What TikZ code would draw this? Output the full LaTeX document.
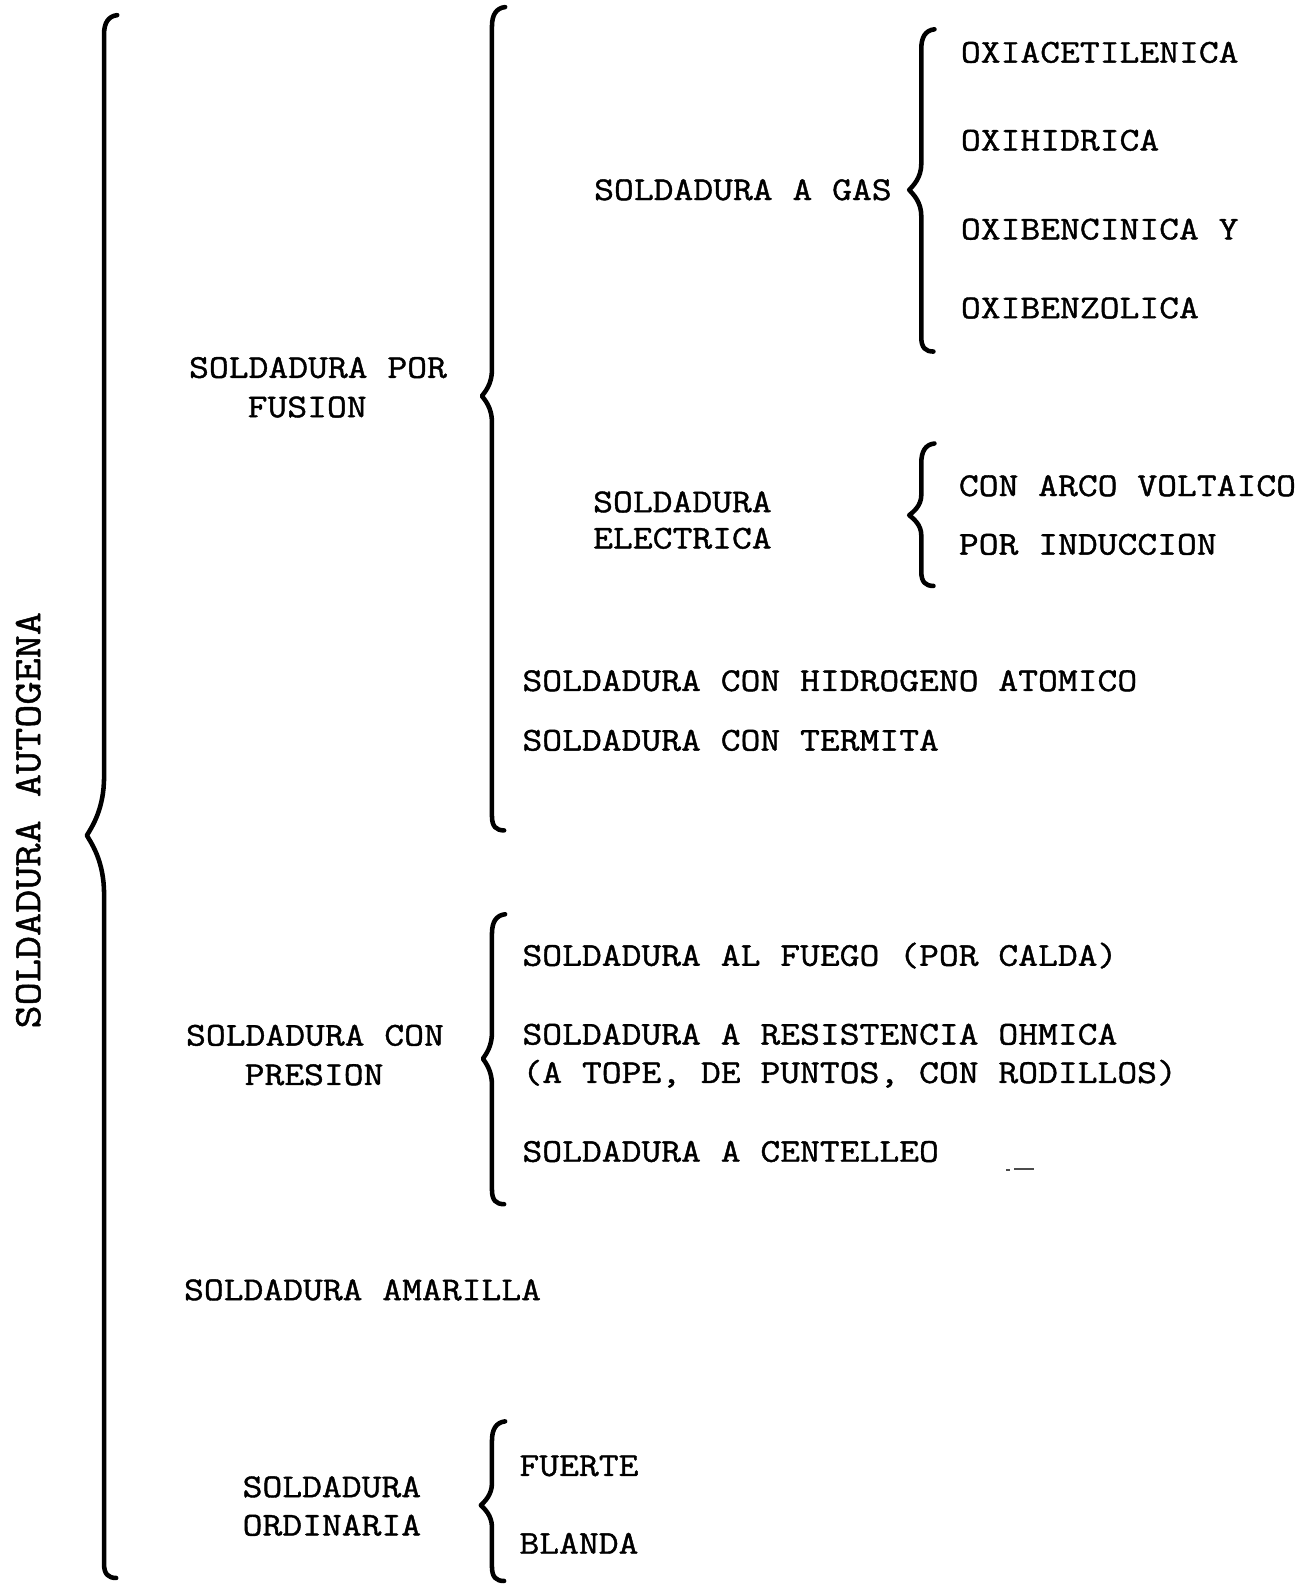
\documentclass[tikz,border=0pt]{standalone}
\usepackage{fontspec}
\newfontfamily\twfont[FakeStretch=1.155, FakeBold=1.2]{Latin Modern Mono}
\tikzset{
  txt/.style={font=\twfont\fontsize{33}{40}\selectfont, anchor=base west, inner sep=0pt},
  vtxt/.style={font=\twfont\fontsize{38.5}{40}\selectfont, inner sep=0pt, rotate=90},
  bracestyle/.style={line width=4.5pt, line cap=round, line join=round},
}
% #1 x of stem, #2 top y, #3 bottom y, #4 tip x, #5 tip y, #6 half span of the tip
\newcommand{\mybrace}[6]{%
  \draw[bracestyle] (#1+13,#2-3) .. controls (#1+4,#2-2) and (#1,#2+5) .. (#1,#2+16)
    -- (#1,#5-#6) .. controls (#1,#5-0.45*#6) and (#4+0.3*#1-0.3*#4,#5-0.15*#6) .. (#4,#5)
    .. controls (#4+0.3*#1-0.3*#4,#5+0.15*#6) and (#1,#5+0.45*#6) .. (#1,#5+#6)
    -- (#1,#3-14) .. controls (#1,#3-4) and (#1+4,#3) .. (#1+12,#3);}
\begin{document}
\begin{tikzpicture}[x=1pt,y=-1pt]
\useasboundingbox[fill=white] (0,0) rectangle (1299,1568);

% rotated title
\node[vtxt] (root) at (28,812) {SOLDADURA  AUTOGENA};
\mybrace{103}{18}{1562}{86}{827}{58}

% fusion
\node[txt] (fus1) at (187,374) {SOLDADURA POR};
\node[txt] (fus2) at (245,413) {FUSION};
\mybrace{487}{10}{822}{477}{392}{26}

\node[txt] (gas) at (588,198) {SOLDADURA A GAS};
\mybrace{912}{32}{348}{900}{188}{26}
\node[txt] (oxa) at (951,62) {OXIACETILENICA};
\node[txt] (oxh) at (951,149) {OXIHIDRICA};
\node[txt] (oxb) at (951,237) {OXIBENCINICA Y};
\node[txt] (oxz) at (951,315) {OXIBENZOLICA};

\node[txt] (el1) at (587,507) {SOLDADURA};
\node[txt] (el2) at (587,543) {ELECTRICA};
\mybrace{912}{442}{580}{900}{510}{20}
\node[txt] (arco) at (949,491) {CON ARCO VOLTAICO};
\node[txt] (ind) at (949,549) {POR INDUCCION};

\node[txt] (hid) at (517,684) {SOLDADURA CON HIDROGENO ATOMICO};
\node[txt] (ter) at (517,743) {SOLDADURA CON TERMITA};

% presion
\node[txt] (pr1) at (184,1035) {SOLDADURA CON};
\node[txt] (pr2) at (242,1074) {PRESION};
\mybrace{487}{908}{1192}{478}{1048}{26}
\node[txt] (fue) at (517,956) {SOLDADURA AL FUEGO (POR CALDA)};
\node[txt] (res) at (517,1034) {SOLDADURA A RESISTENCIA OHMICA};
\node[txt] (top) at (517,1072) {(A TOPE, DE PUNTOS, CON RODILLOS)};
\node[txt] (cen) at (517,1150) {SOLDADURA A CENTELLEO};
\draw[line width=1.5pt, black!70] (996,1158) -- (1000,1158) (1004,1157) -- (1024,1157);

% amarilla
\node[txt] (ama) at (182,1287) {SOLDADURA AMARILLA};

% ordinaria
\node[txt] (or1) at (240,1482) {SOLDADURA};
\node[txt] (or2) at (240,1520) {ORDINARIA};
\mybrace{487}{1410}{1565}{476}{1490}{22}
\node[txt] (fte) at (514,1461) {FUERTE};
\node[txt] (bla) at (514,1538) {BLANDA};
\end{tikzpicture}
\end{document}
